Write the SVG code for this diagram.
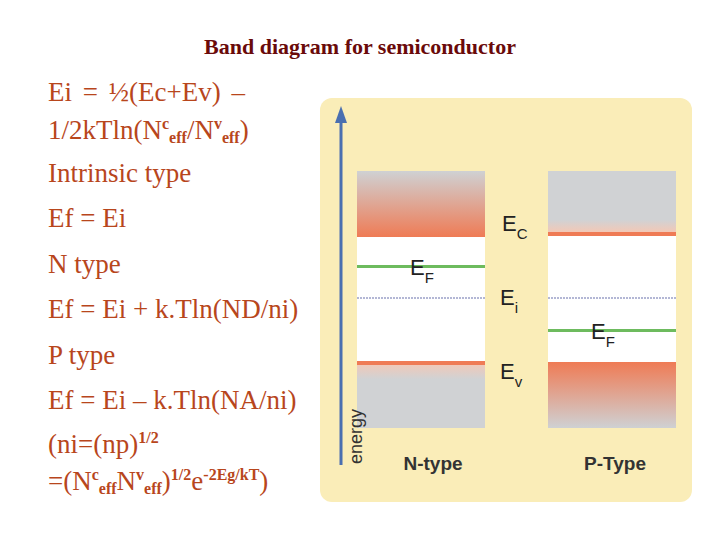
<svg xmlns="http://www.w3.org/2000/svg" width="720" height="540" viewBox="0 0 720 540">
<style>
.t{font-family:"Liberation Serif",serif;font-size:27px;fill:#B8461C}
.s{font-size:16px;font-weight:bold}
.l{font-family:"Liberation Sans",Arial,sans-serif;font-size:22px;fill:#222}
.ls{font-size:15px}
.b{font-family:"Liberation Sans",Arial,sans-serif;font-size:19px;font-weight:bold;fill:#333}
</style>
<defs>
<linearGradient id="gdo" x1="0" y1="0" x2="0" y2="1"><stop offset="0" stop-color="#cfd1d3"/><stop offset="1" stop-color="#ef7b55"/></linearGradient>
<linearGradient id="god" x1="0" y1="0" x2="0" y2="1"><stop offset="0" stop-color="#ef7b55"/><stop offset="1" stop-color="#cfd1d3"/></linearGradient>
<linearGradient id="gp" x1="0" y1="0" x2="0" y2="1"><stop offset="0.8" stop-color="#d0d2d4"/><stop offset="1" stop-color="#f3c8b6"/></linearGradient>
<linearGradient id="gn" x1="0" y1="0" x2="0" y2="1"><stop offset="0" stop-color="#f3c8b6"/><stop offset="0.25" stop-color="#d0d2d4"/></linearGradient>
</defs>
<rect width="720" height="540" fill="#fff"/>
<text x="360" y="54" text-anchor="middle" font-family="Liberation Serif,serif" font-size="22" font-weight="bold" fill="#6a0a0a">Band diagram for semiconductor</text>
<g id="text">
<text class="t" x="48" y="101" word-spacing="4">Ei = ½(Ec+Ev) –</text>
<text class="t" x="48" y="139">1/2kTln(N<tspan class="s" dy="-10">c</tspan><tspan class="s" dy="14">eff</tspan><tspan dy="-4">/N</tspan><tspan class="s" dy="-10">v</tspan><tspan class="s" dy="14">eff</tspan><tspan dy="-4">)</tspan></text>
<text class="t" x="48" y="182">Intrinsic type</text>
<text class="t" x="48" y="227">Ef = Ei</text>
<text class="t" x="48" y="273">N type</text>
<text class="t" x="48" y="318">Ef = Ei + k.Tln(ND/ni)</text>
<text class="t" x="48" y="364">P type</text>
<text class="t" x="48" y="409">Ef = Ei – k.Tln(NA/ni)</text>
<text class="t" x="48" y="453">(ni=(np)<tspan class="s" dy="-10">1/2</tspan></text>
<text class="t" x="48" y="490">=(N<tspan class="s" dy="-10">c</tspan><tspan class="s" dy="14">eff</tspan><tspan dy="-4">N</tspan><tspan class="s" dy="-10">v</tspan><tspan class="s" dy="14">eff</tspan><tspan dy="-4">)</tspan><tspan class="s" dy="-10">1/2</tspan><tspan dy="10">e</tspan><tspan class="s" dy="-10">-2Eg/kT</tspan><tspan dy="10">)</tspan></text>
</g>
<rect x="320" y="98" width="372" height="404" rx="12" fill="#faedb8"/>
<g id="nbox">
<rect x="357" y="171" width="128" height="257" fill="#fff"/>
<rect x="357" y="171" width="128" height="66" fill="url(#gdo)"/>
<rect x="357" y="363" width="128" height="65" fill="url(#gn)"/>
<rect x="357" y="361" width="128" height="4" fill="#ef7b55"/>
<rect x="357" y="265" width="128" height="3" fill="#6dbb5e"/>
<line x1="357" y1="298" x2="485" y2="298" stroke="#9aa0c8" stroke-width="1.5" stroke-dasharray="2,1"/>
<text class="b" x="433" y="470" text-anchor="middle">N-type</text>
</g>
<g id="pbox">
<rect x="548" y="171" width="128" height="257" fill="#fff"/>
<rect x="548" y="171" width="128" height="61" fill="url(#gp)"/>
<rect x="548" y="232" width="128" height="4" fill="#ef7b55"/>
<rect x="548" y="362" width="128" height="66" fill="url(#god)"/>
<rect x="548" y="329" width="128" height="3" fill="#6dbb5e"/>
<line x1="548" y1="298" x2="676" y2="298" stroke="#9aa0c8" stroke-width="1.5" stroke-dasharray="2,1"/>
<text class="b" x="615" y="470" text-anchor="middle">P-Type</text>
</g>
<g id="labels">
<text class="l" x="502" y="231">E<tspan class="ls" dy="8">C</tspan></text>
<text class="l" x="410" y="275">E<tspan class="ls" dy="8">F</tspan></text>
<text class="l" x="500" y="305">E<tspan class="ls" dy="8">i</tspan></text>
<text class="l" x="591" y="339">E<tspan class="ls" dy="8">F</tspan></text>
<text class="l" x="500" y="379">E<tspan class="ls" dy="8">v</tspan></text>
<text x="362" y="464" transform="rotate(-90 362 464)" font-family="Liberation Sans,Arial,sans-serif" font-size="18" fill="#333">energy</text>
</g>
<g id="connectors">
<line x1="341" y1="465" x2="341" y2="120" stroke="#4a6fb0" stroke-width="3"/>
<polygon points="341,106 335,123 347,123" fill="#4a6fb0"/>
</g>
</svg>
